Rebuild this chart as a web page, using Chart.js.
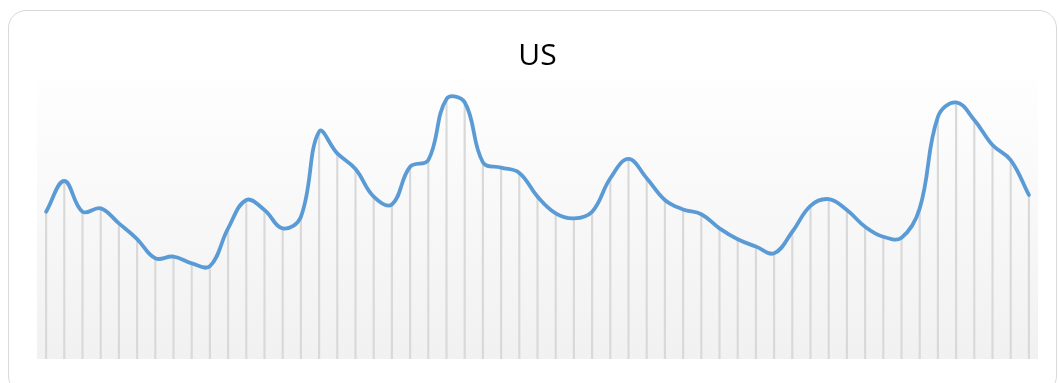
<!DOCTYPE html>
<html>
<head>
<meta charset="utf-8">
<script src="https://cdn.jsdelivr.net/npm/chart.js@4/dist/chart.umd.min.js"></script>
<style>
  html, body { margin: 0; padding: 0; background: #ffffff; }
  #wrap { position: relative; width: 1059px; height: 383px; overflow: hidden; }
  #frame {
    position: absolute; left: 8px; top: 10px; width: 1049px; height: 384px;
    border: 1.5px solid #d9d9d9; border-radius: 18px; box-sizing: border-box;
  }
  #c { position: absolute; left: 0; top: 0; }
</style>
</head>
<body>
<div id="wrap">
  <div id="frame"></div>
  <canvas id="c" width="1059" height="383"></canvas>
</div>
<script>
// Weekly index for the US series
const categories = Array.from({ length: 55 }, (_, i) => String(i + 1));
const usValues = [
  52.8, 63.8, 52.8, 54.0, 48.6, 43.0, 36.1, 36.7, 34.3, 33.3,
  46.8, 57.0, 53.4, 46.8, 51.0, 81.5, 73.7, 68.1, 58.2, 55.4,
  68.9, 71.3, 93.2, 92.0, 70.5, 68.6, 66.7, 58.2, 52.2, 50.4,
  52.8, 64.8, 71.7, 64.8, 57.0, 53.6, 51.9, 46.8, 42.9, 40.3,
  37.9, 45.6, 54.9, 57.3, 53.4, 47.4, 43.8, 43.5, 54.0, 86.8,
  92.0, 85.7, 76.7, 71.3, 58.8
];
const yMin = 0;
const yMax = 100;

// Soft vertical gradient behind the plot area
const plotBackground = {
  id: 'plotBackground',
  beforeDraw(chart) {
    const { ctx, chartArea: a } = chart;
    const g = ctx.createLinearGradient(0, a.top, 0, a.bottom);
    g.addColorStop(0, '#fefefe');
    g.addColorStop(1, '#f1f1f1');
    ctx.save();
    ctx.fillStyle = g;
    ctx.fillRect(a.left, a.top, a.right - a.left, a.bottom - a.top);
    ctx.restore();
  }
};

new Chart(document.getElementById('c'), {
  type: 'line',
  data: {
    labels: categories,
    datasets: [
      {
        type: 'line',
        label: 'US',
        data: usValues,
        borderColor: '#5b9bd5',
        borderWidth: 3.8,
        borderCapStyle: 'round',
        borderJoinStyle: 'round',
        pointRadius: 0,
        tension: 0.4,
        fill: false,
        clip: false,
        order: 0
      },
      {
        // drop lines from each point to the base
        type: 'bar',
        label: 'drop',
        data: usValues,
        backgroundColor: '#d9d9d9',
        barThickness: 1.5,
        order: 1
      }
    ]
  },
  options: {
    responsive: false,
    animation: false,
    events: [],
    layout: { padding: { left: 37, right: 21, top: 0, bottom: 24 } },
    scales: {
      x: { type: 'category', offset: true, display: false, grid: { display: false } },
      y: { min: yMin, max: yMax, display: false, grid: { display: false } }
    },
    plugins: {
      legend: { display: false },
      tooltip: { enabled: false },
      title: {
        display: true,
        text: 'US',
        color: '#000000',
        font: { family: 'Open Sans', size: 30, weight: 'normal', lineHeight: 1.2 },
        padding: { top: 38, bottom: 6 }
      }
    }
  },
  plugins: [plotBackground]
});
</script>
</body>
</html>
